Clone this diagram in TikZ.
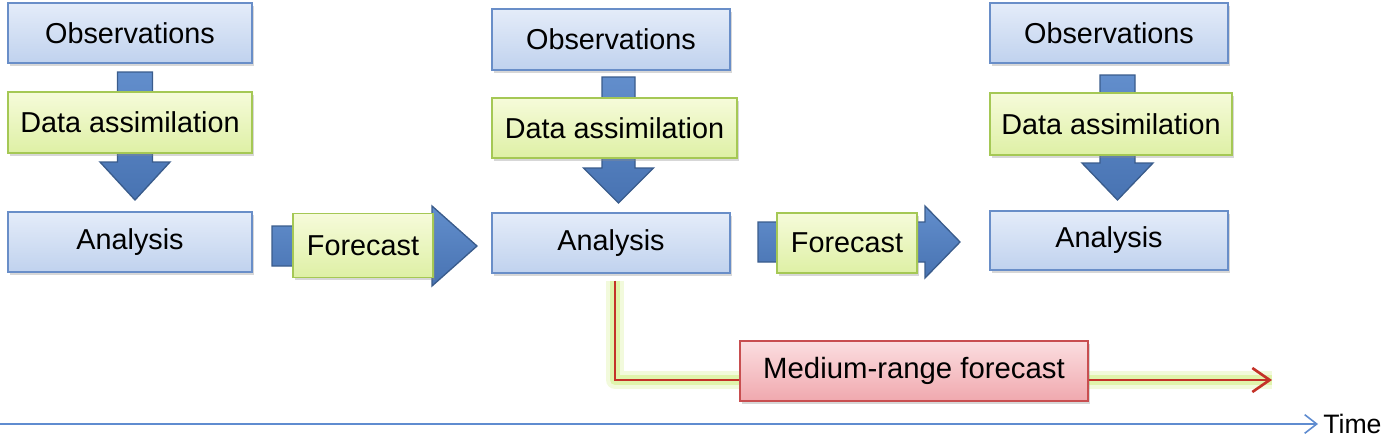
\documentclass[tikz,border=0pt]{standalone}
\usepackage{fontspec}
\setmainfont{Liberation Sans}
\usetikzlibrary{shadows,arrows.meta,calc,backgrounds}
\definecolor{bluedraw}{RGB}{105,142,200}
\definecolor{bluetop}{RGB}{228,236,249}
\definecolor{bluebot}{RGB}{192,210,238}
\definecolor{greendraw}{RGB}{165,200,85}
\definecolor{greentop}{RGB}{246,251,218}
\definecolor{greenbot}{RGB}{222,240,165}
\definecolor{reddraw}{RGB}{200,78,80}
\definecolor{redtop}{RGB}{251,222,224}
\definecolor{redbot}{RGB}{240,168,174}
\definecolor{arrowdraw}{RGB}{58,92,140}
\definecolor{arrowtop}{RGB}{98,142,204}
\definecolor{arrowbot}{RGB}{72,115,178}
\definecolor{glowcol}{RGB}{212,240,140}
\definecolor{redline}{RGB}{196,50,40}
\definecolor{timeblue}{RGB}{95,140,208}
\tikzset{
  wh/.style 2 args={minimum width=#1*0.75pt, minimum height=#2*0.75pt},
  basebox/.style={line width=1.1pt, inner sep=0pt, text=black,
    font=\fontsize{21.6}{26}\selectfont,
    drop shadow={shadow xshift=1.5pt, shadow yshift=-2pt, opacity=0.35, fill=black!45}},
  bluebox/.style={basebox, draw=bluedraw, top color=bluetop, bottom color=bluebot},
  greenbox/.style={basebox, draw=greendraw, top color=greentop, bottom color=greenbot},
  redbox/.style={basebox, draw=reddraw, top color=redtop, bottom color=redbot,
    font=\fontsize{22}{26}\selectfont},
  blockarrow/.style={draw=arrowdraw, line width=1pt, line join=miter,
    top color=arrowtop, bottom color=arrowbot},
  glowwide/.style={line width=18*0.75pt, draw=glowcol, opacity=0.3, line join=round},
  glownarrow/.style={line width=10*0.75pt, draw=glowcol, opacity=0.6, line join=round},
  redconn/.style={line width=2pt, draw=redline, line join=miter},
  timeline/.style={line width=1.2pt, draw=timeblue, -{Straight Barb[length=9pt,width=14pt,line width=1.2pt]}}
}
% vertical block arrow: centre x, top y, head base y, tip y, shaft half width, head half width
\newcommand\vblockarrow[6]{%
  \draw[blockarrow] (#1-#5,#2) -- (#1+#5,#2) -- (#1+#5,#3) -- (#1+#6,#3) -- (#1,#4)
    -- (#1-#6,#3) -- (#1-#5,#3) -- cycle;}
% horizontal block arrow: centre y, left x, head base x, tip x, shaft half height, head half height
\newcommand\hblockarrow[6]{%
  \draw[blockarrow] (#2,#1-#5) -- (#3,#1-#5) -- (#3,#1-#6) -- (#4,#1) -- (#3,#1+#6)
    -- (#3,#1+#5) -- (#2,#1+#5) -- cycle;}
\begin{document}
\begin{tikzpicture}[x=0.75pt,y=-0.75pt]
\useasboundingbox (0,0) rectangle (1389,437);

% block arrows (behind boxes)
\vblockarrow{135}{72}{162}{200}{17.5}{35}
\vblockarrow{618.5}{77}{168}{203}{16.5}{35}
\vblockarrow{1117.5}{75}{163}{200}{17.5}{35.5}
\hblockarrow{246}{272}{432}{477}{20}{40}
\hblockarrow{242}{758}{925}{960}{20}{36}

% column 1
\node[bluebox, wh={244}{60}] (obs1) at (130,33) {Observations};
\node[greenbox, wh={244}{61}] (da1) at (130,122.5) {Data assimilation};
\node[bluebox, wh={244}{60}] (an1) at (130,242) {Analysis};
% column 2
\node[bluebox, wh={238}{61}] (obs2) at (611,39.5) {Observations};
\node[greenbox, wh={245}{60}] (da2) at (614.5,128) {Data assimilation};
\node[bluebox, wh={238}{60}] (an2) at (611,243) {Analysis};
% column 3
\node[bluebox, wh={238}{60}] (obs3) at (1109,33) {Observations};
\node[greenbox, wh={242}{62}] (da3) at (1111,124) {Data assimilation};
\node[bluebox, wh={238}{59}] (an3) at (1109,240.5) {Analysis};
% forecasts
\node[greenbox, wh={140}{64}] (fc1) at (363,245.5) {Forecast};
\node[greenbox, wh={140}{60}] (fc2) at (847,243) {Forecast};
% medium-range
\node[redbox, wh={348}{60}] (mrf) at (914,371) {Medium-range forecast};

% medium-range connector with glow
\coordinate (rstart) at ($(an2.south)+(4,7)$);
\coordinate (rend) at (1272,380);
\begin{pgfonlayer}{background}
\draw[glowwide] (rstart) |- ($(mrf.west)+(0,9)$);
\draw[glownarrow] (rstart) |- ($(mrf.west)+(0,9)$);
\draw[glowwide] ($(mrf.east)+(0,9)$) -- (rend);
\draw[glownarrow] ($(mrf.east)+(0,9)$) -- (rend);
\end{pgfonlayer}
\draw[redconn] (rstart) |- ($(mrf.west)+(0,9)$);
\draw[redconn, -{Straight Barb[length=13pt,width=18pt,line width=2pt]}] ($(mrf.east)+(0,9)$) -- (rend);

% time axis
\coordinate (t0) at (0,424);
\node[anchor=west, inner sep=0pt, font=\fontsize{20}{24}\selectfont] (time) at (1323,424) {Time};
\draw[timeline] (t0) -- ($(time.west)+(-5,0)$);
\end{tikzpicture}
\end{document}
